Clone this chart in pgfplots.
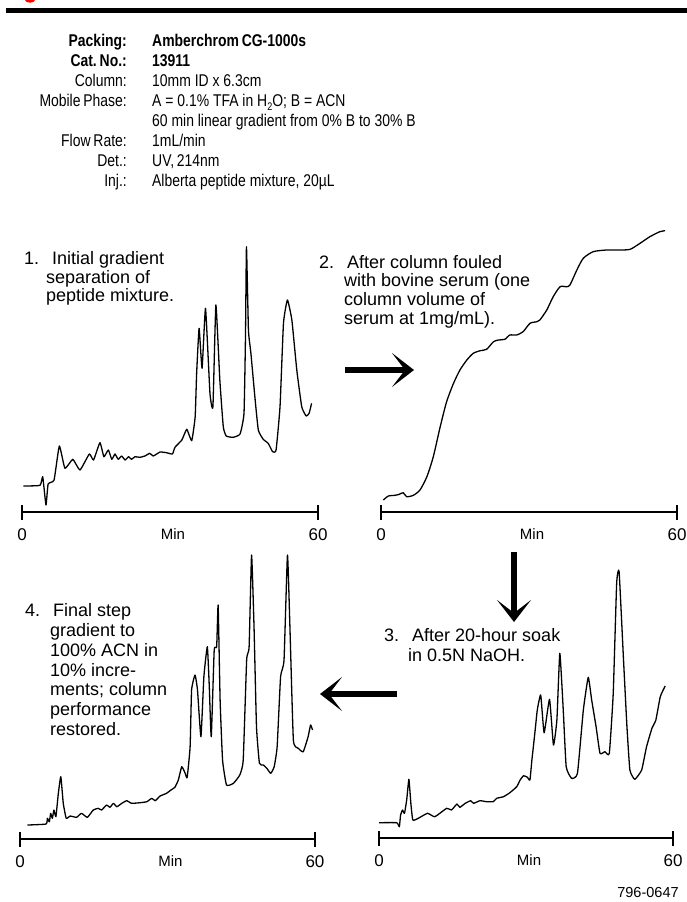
\documentclass[border=0pt]{standalone}
\usepackage{fontspec}
\setmainfont{Liberation Sans}
\newfontfamily\condfont[FakeStretch=0.82]{Liberation Sans}
\usepackage{pgfplots}
\pgfplotsset{compat=1.18}
\usetikzlibrary{arrows.meta}
\pgfplotsset{chrom/.style={
  scale only axis, width=296bp, height=300bp,
  xmin=0, xmax=60, ymin=0, ymax=300, clip=false,
  axis x line*=bottom, axis y line=none, ytick=\empty,
  xtick={0,60}, xticklabels={{\mbox{0}},{\mbox{60}}},
  x axis line style={line width=2.4bp, -},
  xtick style={line width=2.4bp, black},
  major tick length=15bp, tick align=center,
  xticklabel style={font=\fontsize{17bp}{17bp}\selectfont, anchor=center, yshift=-15bp},
  xlabel={Min},
  xlabel style={at={(axis description cs:0.5,0)}, anchor=center, yshift=-22bp, xshift=3bp, font=\fontsize{15bp}{15bp}\selectfont},
}, tr/.style={black, line width=1.3bp, line join=round, mark=none, smooth, tension=0.25}}
\newcommand{\pt}{\fontsize{18bp}{18bp}\selectfont}
\newcommand{\hd}{\condfont\fontsize{17bp}{17bp}\selectfont}
\begin{document}
\begin{tikzpicture}[x=1bp, y=-1bp]
\path[use as bounding box] (0,0) rectangle (687,902);
% top bar
\fill[red] (30bp,0bp) ellipse [x radius=5bp, y radius=2.7bp];
\fill[black] (6,8.3) rectangle (687,12.7);
% header
\begin{scope}[every node/.style={inner sep=0pt}]
\node[anchor=base east] at (127,46) {\hd\bfseries Packing:};
\node[anchor=base west] at (152,46) {\hd\bfseries Amberchrom\,CG-1000s};
\node[anchor=base east] at (127,66.5) {\hd\bfseries Cat.\,No.:};
\node[anchor=base west] at (152,66.5) {\hd\bfseries 13911};
\node[anchor=base east] at (127,86) {\hd Column:};
\node[anchor=base west] at (152,86) {\hd 10mm ID x 6.3cm};
\node[anchor=base east] at (127,106) {\hd Mobile\,Phase:};
\node[anchor=base west] at (152,106) {\hd A = 0.1\% TFA in H\raisebox{-4bp}{\fontsize{11bp}{11bp}\selectfont 2}O; B = ACN};
\node[anchor=base west] at (152,126) {\hd 60 min linear gradient from 0\% B to 30\% B};
\node[anchor=base east] at (127,146.5) {\hd Flow\,Rate:};
\node[anchor=base west] at (152,146.5) {\hd 1mL/min};
\node[anchor=base east] at (127,166.5) {\hd Det.:};
\node[anchor=base west] at (152,166.5) {\hd UV,\,214nm};
\node[anchor=base east] at (127,186.5) {\hd Inj.:};
\node[anchor=base west] at (152,186.5) {\hd Alberta peptide mixture, 20µL};
% panel texts
\node[anchor=base west] at (24,264.3) {\pt 1.};
\node[anchor=base west] at (52,264.3) {\pt Initial gradient};
\node[anchor=base west] at (46,283) {\pt separation of};
\node[anchor=base west] at (46,301.7) {\pt peptide mixture.};
\node[anchor=base west] at (319,268) {\pt 2.};
\node[anchor=base west] at (347,268) {\pt After column fouled};
\node[anchor=base west] at (344,286.7) {\pt with bovine serum (one};
\node[anchor=base west] at (344,305.3) {\pt column volume of};
\node[anchor=base west] at (344,324) {\pt serum at 1mg/mL).};
\node[anchor=base west] at (384,641.7) {\pt 3.};
\node[anchor=base west] at (412,641.7) {\pt After 20-hour soak};
\node[anchor=base west] at (408,661.5) {\pt in 0.5N NaOH.};
\node[anchor=base west] at (25,616.7) {\pt 4.};
\node[anchor=base west] at (53,616.7) {\pt Final step};
\node[anchor=base west] at (50,636.5) {\pt gradient to};
\node[anchor=base west] at (50,656.3) {\pt 100\% ACN in};
\node[anchor=base west] at (50,676.1) {\pt 10\% incre-};
\node[anchor=base west] at (50,695.9) {\pt ments; column};
\node[anchor=base west] at (50,715.7) {\pt performance};
\node[anchor=base west] at (50,735.5) {\pt restored.};
\node[anchor=center] at (648,892) {\fontsize{14.5bp}{14.5bp}\selectfont 796-0647};
\end{scope}
% arrows
\draw[line width=6.5bp, -{Stealth[length=22bp, width=34bp, inset=13bp]}] (345,370) -- (414,370);
\draw[line width=6.5bp, -{Stealth[length=22bp, width=34bp, inset=13bp]}] (514,552) -- (514,622);
\draw[line width=6.5bp, -{Stealth[length=22bp, width=34bp, inset=13bp]}] (397,694) -- (320,694);

% Panel 1
\begin{axis}[chrom, at={(22bp,-512bp)}, anchor=south west]
\addplot[tr] coordinates {(0.27,26) (3.65,26.7) (4.2,35.3) (4.86,7) (5.3,28) (6.5,32) (7.57,66) (8.7,43.7) (10.3,52.7) (11.75,42) (13.65,58) (14.5,52) (15.8,69.3) (16.6,55.3) (17.5,62) (18.2,52.7) (18.85,58) (19.5,52.7) (20.2,56) (20.9,52) (21.6,55.3) (22.2,52.7) (22.9,55.3) (23.9,54.7) (24.9,56) (25.9,58.7) (26.6,56) (28.0,60) (29.3,59.3) (30.5,58) (31.0,64.7) (32.4,72) (33.4,82.7) (34.4,71.3) (35.1,95.3) (35.4,138.7) (35.9,183.7) (36.5,143.7) (37.2,203.7) (38.1,118.7) (38.7,105.3) (39.3,207) (40.1,132) (40.8,85.3) (41.4,76) (42.8,74.7) (44.2,78) (45.0,98.7) (45.3,175.3) (45.5,265.3) (45.9,182) (46.4,158.7) (47.2,115.3) (47.9,82) (48.9,72.7) (49.9,68.7) (50.8,60.3) (51.5,62) (52.3,105.3) (53.0,188.7) (53.8,212) (54.7,192) (55.7,142) (56.7,105.3) (57.6,96) (58.2,98.7) (58.7,108.7)};
\end{axis}

% Panel 2
\begin{axis}[chrom, at={(381bp,-512bp)}, anchor=south west]
\addplot[tr, tension=0.4] coordinates {(0.47,12) (1.5,16) (2.84,16.7) (3.6,17.5) (4.5,19.3) (5.2,15.3) (6.55,16.7) (7.9,22) (9.3,35.3) (10.6,55.3) (12.0,85.3) (13.3,110.3) (14.7,128.7) (16.0,142) (17.4,152) (18.7,158.7) (20.1,161.3) (21.4,162.7) (22.8,170.3) (23.8,172) (25.1,172.7) (26.1,177) (27.5,177) (28.8,180.3) (30.2,188.7) (31.6,190.3) (32.2,192) (33.6,202) (34.9,215.3) (36.3,225.3) (37.6,225.3) (38.3,227) (39.7,242) (41.0,253.7) (43.0,260.3) (45.7,262) (48.4,262) (50.5,262.7) (52.5,268.7) (54.5,275.3) (56.5,280.3) (57.6,281.3)};
\end{axis}

% Panel 3
\begin{axis}[chrom, width=294bp, at={(379bp,-838bp)}, anchor=south west]
\addplot[tr] coordinates {(0,15.3) (3.6,15.3) (4.15,11.3) (4.4,23) (4.8,28) (5.2,24.7) (5.65,38) (6.1,58.7) (6.5,34.7) (6.9,18) (8.0,19.7) (9.9,24.7) (11.4,21.3) (13.8,29.7) (14.8,28) (15.9,34) (16.5,30.7) (17.6,34.7) (18.7,37.3) (19.3,34.7) (20.6,37.3) (22.0,36.3) (23.3,36.3) (24.0,39.7) (25.4,41.3) (26.7,45.3) (28.1,51.3) (28.8,58) (29.5,62.3) (30.3,60.7) (30.8,58) (31.2,78) (31.8,104.7) (32.3,128) (33.0,143) (33.7,105.3) (34.8,138.7) (35.6,93) (36.3,118) (36.9,184.7) (37.6,128) (38.2,71.3) (39.3,59.7) (40.5,64.7) (41.7,128) (42.7,160.7) (43.4,138) (44.3,111.3) (45.1,84.7) (46.1,86.3) (47.0,84.7) (47.8,144.7) (48.5,254.7) (49.0,266.3) (49.9,178) (50.6,111.3) (51.2,68) (52.2,58.7) (53.6,68) (54.6,91.3) (55.7,109.7) (56.5,118) (57.4,141.3) (58.4,152)};
\end{axis}

% Panel 4
\begin{axis}[chrom, width=295bp, at={(20bp,-839bp)}, anchor=south west]
\addplot[tr] coordinates {(1.5,14) (5.3,15) (5.56,20.7) (5.97,17.3) (6.24,25.7) (6.58,20.7) (6.9,29) (7.3,22.3) (7.8,45.7) (8.3,62.3) (8.8,35.7) (9.4,20.7) (10.2,23) (11.5,21.7) (12.5,25.7) (13.7,21.7) (14.9,29) (15.9,30.7) (16.6,29) (17.6,34) (18.3,31.7) (19.0,35.7) (19.7,32.3) (20.7,35.7) (21.7,38.3) (22.7,35.7) (24.4,36.3) (25.8,37.3) (26.8,40.7) (27.5,38.3) (28.5,43) (29.8,45.7) (30.7,49) (31.5,51.7) (32.2,59) (32.9,72.3) (33.6,65.7) (34.0,61.5) (34.6,92.3) (34.9,149) (35.6,164) (36.1,149) (36.8,102.3) (37.4,162.3) (38.1,192.3) (38.5,152.3) (38.9,102.3) (39.5,189) (40.0,192.3) (40.3,234) (40.7,139) (41.2,79) (42.0,54) (43.4,55.7) (44.7,64) (45.4,79) (46.1,179) (46.6,192.3) (47.1,284) (47.6,212) (48.1,112.3) (48.7,75.7) (49.5,74) (50.2,70.7) (51.0,65.7) (51.7,72.3) (52.3,92.3) (53.0,162.3) (53.7,179) (54.4,284) (54.9,212) (55.6,99) (56.6,90.7) (57.6,87.3) (58.6,102.3) (59.1,114) (59.5,109)};
\end{axis}
\end{tikzpicture}
\end{document}
